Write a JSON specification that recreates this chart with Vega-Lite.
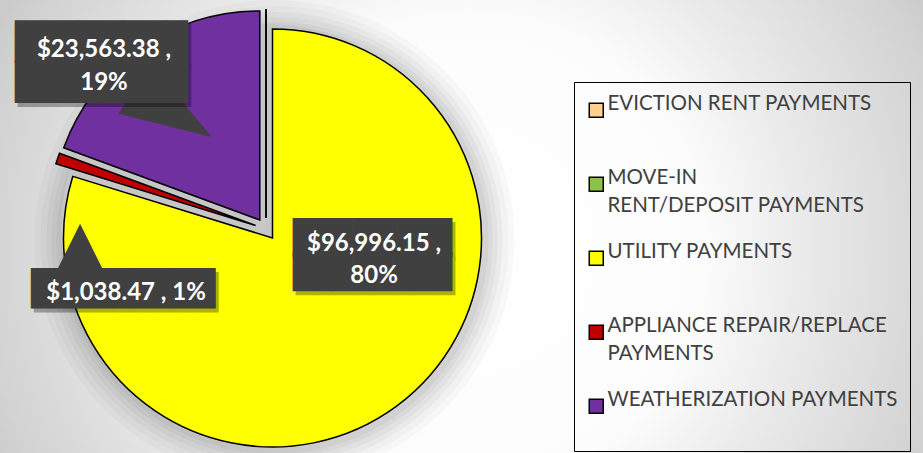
{
  "$schema": "https://vega.github.io/schema/vega-lite/v6.json",
  "width": 923,
  "height": 453,
  "padding": 0,
  "autosize": {"type": "none"},
  "background": "#e4e4e4",
  "config": {
    "view": {"stroke": null},
    "style": {"guide-label": {"lineHeight": 27.5}},
    "legend": {
      "orient": "none",
      "legendX": 574,
      "legendY": 82,
      "padding": 12,
      "strokeColor": "#000000",
      "strokeWidth": 1,
      "symbolType": "square",
      "symbolSize": 196,
      "symbolStrokeColor": "#000000",
      "symbolStrokeWidth": 1.5,
      "labelFont": "Lato",
      "labelFontSize": 20.5,
      "labelColor": "#404040",
      "labelLimit": 400,
      "labelOffset": 1,
      "labelBaseline": "alphabetic",
      "titleFontSize": 4,
      "titlePadding": 2,
      "rowPadding": 25
    }
  },
  "resolve": {"scale": {"theta": "independent", "color": "independent"}},
  "layer": [
    {
      "data": {"values": [{"part": "background", "v": 1}]},
      "encoding": {"theta": {"field": "v", "type": "quantitative"}},
      "layer": [
        {
          "mark": {"type": "arc", "radius": 520},
          "encoding": {
            "color": {"value": {"gradient": "radial", "x1": 0.508, "y1": 0.523, "r1": 0, "x2": 0.508, "y2": 0.523, "r2": 0.5,
              "stops": [{"offset": 0, "color": "#ffffff"}, {"offset": 0.45, "color": "#fcfcfc"}, {"offset": 0.62, "color": "#ececec"}, {"offset": 0.94, "color": "#d2d2d2"}, {"offset": 1, "color": "#cbcbcb"}]}}
          }
        },
        {"mark": {"type": "arc", "radius": 240, "xOffset": -187, "yOffset": 13.5, "opacity": 0.025}, "encoding": {"color": {"value": "#000000"}}},
        {"mark": {"type": "arc", "radius": 234, "xOffset": -187, "yOffset": 13.5, "opacity": 0.025}, "encoding": {"color": {"value": "#000000"}}},
        {"mark": {"type": "arc", "radius": 228, "xOffset": -187, "yOffset": 13.5, "opacity": 0.03}, "encoding": {"color": {"value": "#000000"}}},
        {"mark": {"type": "arc", "radius": 223, "xOffset": -187, "yOffset": 13.5, "opacity": 0.03}, "encoding": {"color": {"value": "#000000"}}},
        {"mark": {"type": "arc", "radius": 218, "xOffset": -187, "yOffset": 13.5, "opacity": 0.035}, "encoding": {"color": {"value": "#000000"}}},
        {"mark": {"type": "arc", "radius": 214, "xOffset": -187, "yOffset": 13.5, "opacity": 0.035}, "encoding": {"color": {"value": "#000000"}}}
      ]
    },
    {
      "data": {
        "values": [
          {"category": "EVICTION RENT PAYMENTS", "value": 0},
          {"category": "MOVE-IN RENT/DEPOSIT PAYMENTS", "value": 0},
          {"category": "UTILITY PAYMENTS", "value": 96996.15},
          {"category": "APPLIANCE REPAIR/REPLACE PAYMENTS", "value": 1038.47},
          {"category": "WEATHERIZATION PAYMENTS", "value": 23563.38}
        ]
      },
      "transform": [
        {"window": [{"op": "row_number", "as": "idx"}]},
        {"joinaggregate": [{"op": "sum", "field": "value", "as": "total"}]},
        {"calculate": "format(datum.value, '$,.2f') + ' ,'", "as": "money"},
        {"calculate": "format(datum.value / datum.total, '.0%')", "as": "pct"},
        {"calculate": "[datum.money, datum.pct]", "as": "twoLine"},
        {"calculate": "datum.money + ' ' + datum.pct", "as": "oneLine"}
      ],
      "encoding": {
        "theta": {"field": "value", "type": "quantitative", "stack": true},
        "order": {"field": "idx", "type": "quantitative"},
        "color": {
          "field": "category",
          "type": "nominal",
          "scale": {
            "domain": ["EVICTION RENT PAYMENTS", "MOVE-IN RENT/DEPOSIT PAYMENTS", "UTILITY PAYMENTS", "APPLIANCE REPAIR/REPLACE PAYMENTS", "WEATHERIZATION PAYMENTS"],
            "range": ["#FFD08F", "#8BC34A", "#FFFF00", "#C00000", "#7030A0"]
          },
          "legend": {
            "title": " ",
            "labelExpr": "datum.label == 'MOVE-IN RENT/DEPOSIT PAYMENTS' ? ['MOVE-IN', 'RENT/DEPOSIT PAYMENTS'] : datum.label == 'APPLIANCE REPAIR/REPLACE PAYMENTS' ? ['APPLIANCE REPAIR/REPLACE', 'PAYMENTS'] : [datum.label, ' ']",
            "encode": {"labels": {"dy": {"value": 11}, "lineHeight": {"value": 27.5}}}
          }
        }
      },
      "layer": [
        {
          "mark": {"type": "arc", "radius": 205, "xOffset": -195.5, "yOffset": 2.5},
          "encoding": {"color": {"value": "#c6c6c6"}}
        },
        {
          "mark": {"type": "arc", "radius": 209, "stroke": "#000000", "strokeWidth": 1.5, "xOffset": -195.5, "yOffset": -8.5},
          "encoding": {"opacity": {"condition": {"test": "datum.value == 0", "value": 1}, "value": 0}}
        },
        {
          "mark": {"type": "arc", "radius": 209, "stroke": "#000000", "strokeWidth": 1.5, "xOffset": -189, "yOffset": 11.5},
          "encoding": {"opacity": {"condition": {"test": "datum.category == 'UTILITY PAYMENTS'", "value": 1}, "value": 0}}
        },
        {
          "mark": {"type": "arc", "radius": 209, "stroke": "#000000", "strokeWidth": 1.5, "xOffset": -205.9, "yOffset": -1},
          "encoding": {"opacity": {"condition": {"test": "datum.category == 'APPLIANCE REPAIR/REPLACE PAYMENTS'", "value": 1}, "value": 0}}
        },
        {
          "mark": {"type": "arc", "radius": 209, "stroke": "#000000", "strokeWidth": 1.5, "xOffset": -201.7, "yOffset": -6.5},
          "encoding": {"opacity": {"condition": {"test": "datum.category == 'WEATHERIZATION PAYMENTS'", "value": 1}, "value": 0}}
        },
        {
          "mark": {"type": "text", "radius": 120, "xOffset": -195.5, "yOffset": 2.5, "font": "DejaVu Sans Mono", "fontSize": 33, "lineHeight": 34, "align": "center", "baseline": "middle", "dx": 38.3, "dy": -82.8, "opacity": 0.3},
          "encoding": {
            "color": {"value": "#000000"},
            "text": {"condition": {"test": "datum.category == 'UTILITY PAYMENTS'", "value": ["████████", "████████"]}, "value": ""}
          }
        },
        {
          "mark": {"type": "text", "radius": 120, "xOffset": -195.5, "yOffset": 2.5, "font": "DejaVu Sans Mono", "fontSize": 33, "lineHeight": 34, "align": "center", "baseline": "middle", "dx": 35.3, "dy": -86.8},
          "encoding": {
            "color": {"value": "#404040"},
            "text": {"condition": {"test": "datum.category == 'UTILITY PAYMENTS'", "value": ["████████", "████████"]}, "value": ""}
          }
        },
        {
          "mark": {"type": "text", "radius": 120, "xOffset": -195.5, "yOffset": 2.5, "font": "Lato", "fontWeight": "bold", "fontSize": 24, "lineHeight": 32, "align": "center", "baseline": "middle", "dx": 36.8, "dy": -82},
          "encoding": {
            "color": {"value": "#ffffff"},
            "text": {"condition": {"test": "datum.category == 'UTILITY PAYMENTS'", "field": "twoLine", "type": "nominal"}, "value": ""}
          }
        },
        {
          "mark": {"type": "text", "radius": 120, "xOffset": -195.5, "yOffset": 2.5, "font": "DejaVu Sans", "fontSize": 75, "align": "center", "baseline": "middle", "dx": -72.3, "dy": 58.5},
          "encoding": {
            "color": {"value": "#404040"},
            "text": {"condition": {"test": "datum.category == 'APPLIANCE REPAIR/REPLACE PAYMENTS'", "value": "▲"}, "value": ""}
          }
        },
        {
          "mark": {"type": "text", "radius": 120, "xOffset": -195.5, "yOffset": 2.5, "font": "DejaVu Sans Mono", "fontSize": 34, "align": "center", "baseline": "middle", "dx": -26.3, "dy": 103.2, "opacity": 0.3},
          "encoding": {
            "color": {"value": "#000000"},
            "text": {"condition": {"test": "datum.category == 'APPLIANCE REPAIR/REPLACE PAYMENTS'", "value": "█████████"}, "value": ""}
          }
        },
        {
          "mark": {"type": "text", "radius": 120, "xOffset": -195.5, "yOffset": 2.5, "font": "DejaVu Sans Mono", "fontSize": 34, "align": "center", "baseline": "middle", "dx": -29.3, "dy": 99.2},
          "encoding": {
            "color": {"value": "#404040"},
            "text": {"condition": {"test": "datum.category == 'APPLIANCE REPAIR/REPLACE PAYMENTS'", "value": "█████████"}, "value": ""}
          }
        },
        {
          "mark": {"type": "text", "radius": 120, "xOffset": -195.5, "yOffset": 2.5, "font": "Lato", "fontWeight": "bold", "fontSize": 24, "align": "center", "baseline": "middle", "dx": -26.3, "dy": 102.9},
          "encoding": {
            "color": {"value": "#ffffff"},
            "text": {"condition": {"test": "datum.category == 'APPLIANCE REPAIR/REPLACE PAYMENTS'", "field": "oneLine", "type": "nominal"}, "value": ""}
          }
        },
        {
          "mark": {"type": "text", "radius": 120, "xOffset": -195.5, "yOffset": 2.5, "font": "DejaVu Sans", "fontSize": 120, "angle": 32, "align": "center", "baseline": "middle", "dx": -30, "dy": -7},
          "encoding": {
            "color": {"value": "#404040"},
            "text": {"condition": {"test": "datum.category == 'WEATHERIZATION PAYMENTS'", "value": "►"}, "value": ""}
          }
        },
        {
          "mark": {"type": "text", "radius": 120, "xOffset": -195.5, "yOffset": 2.5, "font": "DejaVu Sans Mono", "fontSize": 35.9, "lineHeight": 39.6, "align": "center", "baseline": "middle", "dx": -92.9, "dy": -83.3, "opacity": 0.3},
          "encoding": {
            "color": {"value": "#000000"},
            "text": {"condition": {"test": "datum.category == 'WEATHERIZATION PAYMENTS'", "value": ["████████", "████████"]}, "value": ""}
          }
        },
        {
          "mark": {"type": "text", "radius": 120, "xOffset": -195.5, "yOffset": 2.5, "font": "DejaVu Sans Mono", "fontSize": 35.9, "lineHeight": 39.6, "align": "center", "baseline": "middle", "dx": -95.9, "dy": -87.3},
          "encoding": {
            "color": {"value": "#404040"},
            "text": {"condition": {"test": "datum.category == 'WEATHERIZATION PAYMENTS'", "value": ["████████", "████████"]}, "value": ""}
          }
        },
        {
          "mark": {"type": "text", "radius": 120, "xOffset": -195.5, "yOffset": 2.5, "font": "Lato", "fontWeight": "bold", "fontSize": 24, "lineHeight": 33, "align": "center", "baseline": "middle", "dx": -93.4, "dy": -80.4},
          "encoding": {
            "color": {"value": "#ffffff"},
            "text": {"condition": {"test": "datum.category == 'WEATHERIZATION PAYMENTS'", "field": "twoLine", "type": "nominal"}, "value": ""}
          }
        }
      ]
    }
  ]
}
